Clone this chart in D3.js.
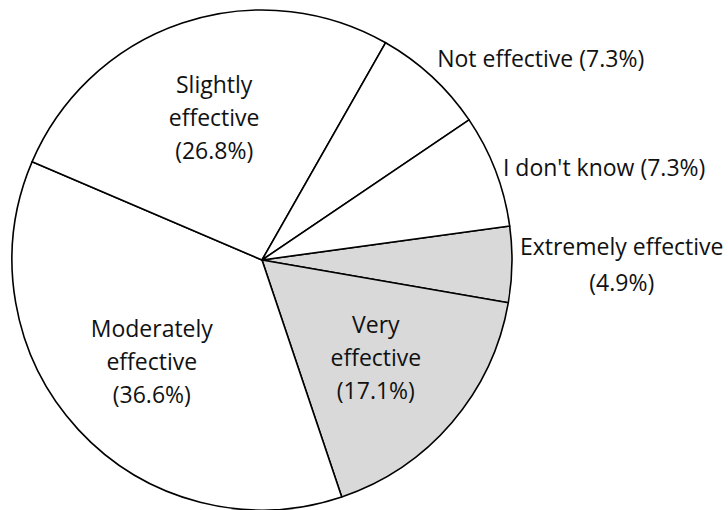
<!DOCTYPE html>
<html>
<head>
<meta charset="utf-8">
<script src="https://cdn.jsdelivr.net/npm/d3@7"></script>
<style>
	body { margin: 0; background: #fff; }
	text { font-family: "Open Sans", sans-serif; font-size: 23px; fill: #111; }
</style>
</head>
<body>
<div id="chart-area"></div>
<script>

// DATA (clockwise, starting at "Extremely effective")
let categories = ["Extremely effective", "Very effective", "Moderately effective", "Slightly effective", "Not effective", "I don't know"];
let percents = [4.9, 17.1, 36.6, 26.8, 7.3, 7.3];
let shaded = [true, true, false, false, false, false];
let outsideLabel = [true, false, false, false, true, true];

// CHART AREA
let width = 728,
	height = 510,
	cx = 262,
	cy = 260,
	radius = 250;

let svg = d3.select("#chart-area").append("svg")
	.attr("width", width)
	.attr("height", height);

let g = svg.append("g")
	.attr("transform", "translate(" + cx + "," + cy + ")");

let data = categories.map((c, i) => ({name: c, value: percents[i], shaded: shaded[i], outside: outsideLabel[i]}));

// first slice starts a bit past 3 o'clock in the picture
let startAngle = 82.2 * Math.PI / 180;

let pie = d3.pie()
	.sort(null)
	.value(d => d.value)
	.startAngle(startAngle)
	.endAngle(startAngle + 2 * Math.PI);

let arc = d3.arc().innerRadius(0).outerRadius(radius);
let innerLabelArc = d3.arc().innerRadius(radius * 0.6).outerRadius(radius * 0.6);
let outerLabelArc = d3.arc().innerRadius(radius + 8).outerRadius(radius + 8);

let arcs = pie(data);

// ---- DRAW SLICES ----
g.selectAll(".slice")
	.data(arcs)
	.enter()
	.append("path")
	.attr("class", "slice")
	.attr("d", arc)
	.attr("fill", d => d.data.shaded ? "#d9d9d9" : "#ffffff")
	.attr("stroke", "#000")
	.attr("stroke-width", 1.6)
	.attr("stroke-linejoin", "round");

// ---- LABELS ----
let lineHeight = 33;

arcs.forEach(function(d) {
	let pct = "(" + d.data.value.toFixed(1) + "%)";
	let label = g.append("text").attr("text-anchor", "middle");

	if (!d.data.outside) {
		// inside: name words on separate lines, then percentage
		let lines = d.data.name.split(" ").concat([pct]);
		let c = innerLabelArc.centroid(d);
		let top = c[1] - (lines.length - 1) * lineHeight / 2;
		lines.forEach(function(l, i) {
			label.append("tspan")
				.attr("x", c[0])
				.attr("y", top + i * lineHeight)
				.attr("dy", "0.35em")
				.text(l);
		});
		return;
	}

	// outside: one line if it fits, otherwise break before the percentage
	let p = outerLabelArc.centroid(d);
	let px = p[0] + cx;
	let lines = [d.data.name + " " + pct];
	let probe = label.append("tspan").text(lines[0]);
	if (px + probe.node().getComputedTextLength() > width - 4) {
		lines = [d.data.name, pct];
	}
	probe.remove();

	let widths = lines.map(l => {
		let t = label.append("tspan").text(l);
		let w = t.node().getComputedTextLength();
		t.remove();
		return w;
	});
	let blockW = d3.max(widths);
	let lh = 36;
	// box sits higher the closer the slice is to the top
	let mid = (d.startAngle + d.endAngle) / 2;
	let blockH = lines.length * lh;
	let yc = p[1] - Math.max(0, Math.cos(mid) - 0.4) * blockH;
	let top = yc - (lines.length - 1) * lh / 2;
	lines.forEach(function(l, i) {
		label.append("tspan")
			.attr("x", p[0] + blockW / 2)
			.attr("y", top + i * lh)
			.attr("dy", "0.35em")
			.text(l);
	});
});

</script>
</body>
</html>
